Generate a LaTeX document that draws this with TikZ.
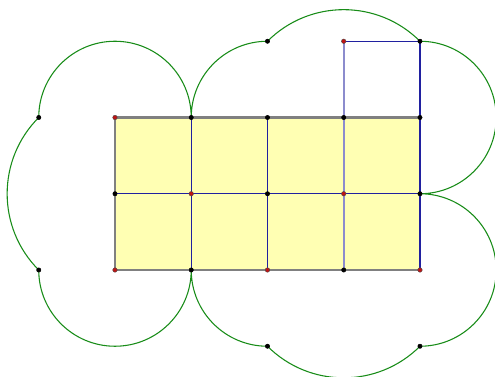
\documentclass[tikz,border=0pt]{standalone}
\usepackage{xcolor}
\usepackage{tikz}

\definecolor{padyellow}{RGB}{255,255,179}
\definecolor{edgegrey}{RGB}{128,128,128}
\definecolor{gridnavy}{RGB}{32,32,160}
\definecolor{lavender}{RGB}{140,140,205}
\definecolor{cloudgreen}{RGB}{24,140,24}
\definecolor{dotred}{RGB}{190,20,20}

\begin{document}
\begin{tikzpicture}[
  x=2cm, y=2cm,
  pad/.style={fill=padyellow, draw=none},
  rim/.style={draw=edgegrey, line width=1.5pt},
  inner/.style={draw=gridnavy, line width=0.8pt},
  spine/.style={draw=lavender, line width=1.5pt},
  cloud/.style={draw=cloudgreen, line width=0.8pt},
  blackdot/.style={fill=black, draw=black, radius=1.6pt},
  reddot/.style={fill=dotred, draw=black!70, line width=0.3pt, radius=1.7pt}]

%% marco: mismo encuadre que la figura original
\useasboundingbox (-1.508,-1.403) rectangle (4.984,3.541);

%% ---- puntos de la cuadricula ----
\foreach \i in {0,...,4}
  \foreach \j in {0,1,2}
    \coordinate (p\i\j) at (\i,\j);
\coordinate (p33) at (3,3);
\coordinate (p43) at (4,3);
\coordinate (p23) at (2,3);
\coordinate (w2) at (-1,2);
\coordinate (w0) at (-1,0);
\coordinate (s2) at (2,-1);
\coordinate (s4) at (4,-1);

%% ---- relleno y lineas ----
\fill[pad] (p00) rectangle (p42);

\draw[inner] (p01) -- (p41);
\draw[inner] (p10) -- (p12);
\draw[inner] (p20) -- (p22);
\draw[inner] (p40) -- (p43) -- (p33);
\draw[spine] (p30) -- (p33);
\draw[rim] (p40) -- (p00) -- (p02) -- (p42);

%% ---- contorno verde: arcos de centro en la cuadricula ----
\draw[cloud] (w2)
  arc[start angle=180, end angle=0, radius=1]
  arc[start angle=180, end angle=90, radius=1]
  arc[start angle=135, end angle=45, radius=1.41421]
  arc[start angle=90, end angle=-90, radius=1]
  arc[start angle=90, end angle=-90, radius=1]
  arc[start angle=-45, end angle=-135, radius=1.41421]
  arc[start angle=-90, end angle=-180, radius=1]
  arc[start angle=0, end angle=-180, radius=1]
  arc[start angle=225, end angle=135, radius=1.41421] -- cycle;

%% ---- puntos ----
\foreach \q in {p10,p30,p01,p21,p41,p12,p22,p32,p42,p43,p23,w2,w0,s2,s4}
  \fill[blackdot] (\q) circle;
\foreach \q in {p00,p20,p40,p11,p31,p02,p33}
  \filldraw[reddot] (\q) circle;
\end{tikzpicture}
\end{document}
